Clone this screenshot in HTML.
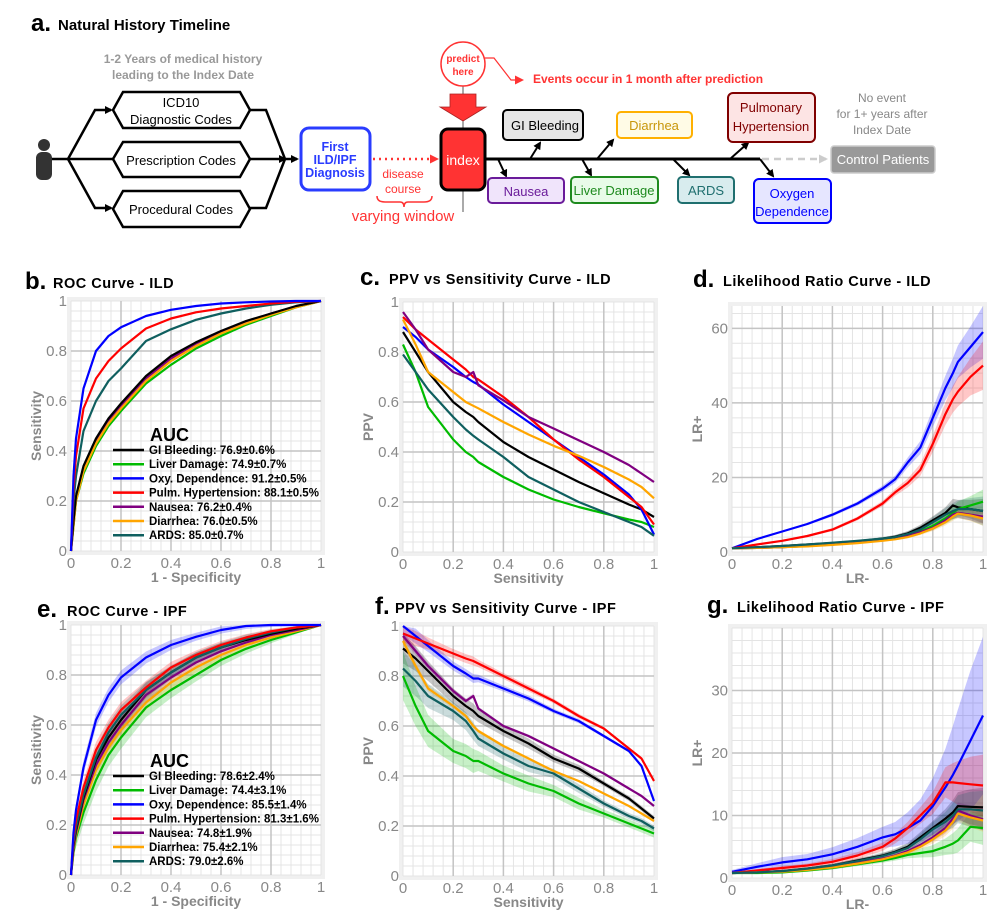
<!DOCTYPE html>
<html><head><meta charset="utf-8">
<style>
html,body{margin:0;padding:0;background:#fff;}
svg{display:block;font-family:"Liberation Sans",Arial,sans-serif;}
</style></head>
<body>
<svg id="fig" width="993" height="913" viewBox="0 0 993 913" xmlns="http://www.w3.org/2000/svg">
<defs>
<marker id="ah" markerWidth="8" markerHeight="8" refX="6" refY="4" orient="auto" markerUnits="userSpaceOnUse"><path d="M0,0 L8,4 L0,8 z" fill="#000"/></marker>
<marker id="ahr" markerWidth="9" markerHeight="9" refX="7" refY="4.5" orient="auto" markerUnits="userSpaceOnUse"><path d="M0,0 L9,4.5 L0,9 z" fill="#ff3333"/></marker>
<marker id="ahg" markerWidth="9" markerHeight="9" refX="7" refY="4.5" orient="auto" markerUnits="userSpaceOnUse"><path d="M0,0 L9,4.5 L0,9 z" fill="#ccc"/></marker>
</defs>
<g>
<text x="31" y="31" font-size="24" font-weight="bold">a.</text>
<text x="58" y="30" font-size="15" font-weight="bold">Natural History Timeline</text>
<text x="183" y="63" font-size="12" font-weight="bold" fill="#999" text-anchor="middle">1-2 Years of medical history</text>
<text x="183" y="79" font-size="12" font-weight="bold" fill="#999" text-anchor="middle">leading to the Index Date</text>
<g><circle cx="44" cy="145" r="6" fill="#333"/><rect x="36" y="152" width="16" height="28" rx="6" fill="#333"/></g>
<g fill="none" stroke="#000" stroke-width="2.5">
<path d="M52,159 L285,159" marker-end="url(#ah)"/>
<path d="M68,159 L95,110 L111,110" marker-end="url(#ah)"/>
<path d="M68,159 L95,208 L111,208" marker-end="url(#ah)"/>
<path d="M250,110 L266,110 L285,159 L297,159" marker-end="url(#ah)"/>
<path d="M250,208 L266,208 L285,159"/>
</g>
<g stroke="#000" stroke-width="2.5" fill="#fff">
<polygon points="113,110 123,92 240,92 250,110 240,128 123,128"/>
<polygon points="113,159 123,142 240,142 250,159 240,177 123,177"/>
<polygon points="113,209 123,191 240,191 250,209 240,227 123,227"/>
</g>
<g font-size="13" text-anchor="middle" fill="#000">
<text x="181" y="107">ICD10</text>
<text x="181" y="124">Diagnostic Codes</text>
<text x="181" y="165">Prescription Codes</text>
<text x="181" y="214">Procedural Codes</text>
</g>
<rect x="301" y="128" width="69" height="62" rx="8" fill="#fff" stroke="#2a3cff" stroke-width="3"/>
<g font-size="12.5" font-weight="bold" fill="#2a3cff" text-anchor="middle">
<text x="335" y="151">First</text>
<text x="335" y="164">ILD/IPF</text>
<text x="335" y="177">Diagnosis</text>
</g>
<path d="M373,159 L437,159" stroke="#ff3333" stroke-width="2.5" stroke-dasharray="2,4" fill="none" marker-end="url(#ahr)"/>
<text x="403" y="178" font-size="12" fill="#ff3333" text-anchor="middle">disease</text>
<text x="403" y="193" font-size="12" fill="#ff3333" text-anchor="middle">course</text>
<path d="M377,196 Q377,202 385,202 L400,202 Q404,202 404,207 Q404,202 408,202 L424,202 Q432,202 432,196" stroke="#ff3333" stroke-width="1.5" fill="none"/>
<text x="403" y="221" font-size="15" fill="#ff3333" text-anchor="middle">varying window</text>
<line x1="463" y1="86" x2="463" y2="212" stroke="#555" stroke-width="1"/>
<circle cx="463" cy="64" r="22" fill="#fff" stroke="#ff3333" stroke-width="1.5"/>
<text x="463" y="62" font-size="10" font-weight="bold" fill="#ff3333" text-anchor="middle">predict</text>
<text x="463" y="75" font-size="10" font-weight="bold" fill="#ff3333" text-anchor="middle">here</text>
<polygon points="450,94 476,94 476,107 486,107 463,121 440,107 450,107" fill="#ff3333" stroke="#aa2222" stroke-width="0.8"/>
<path d="M485,58 L494,58 L511,80 L522,80" stroke="#ff3333" stroke-width="1.2" fill="none" marker-end="url(#ahr)"/>
<text x="533" y="83" font-size="12" font-weight="bold" fill="#ff3333">Events occur in 1 month after prediction</text>
<line x1="485" y1="159" x2="760" y2="159" stroke="#000" stroke-width="3"/>
<path d="M762,159 L826,159" stroke="#ccc" stroke-width="2.5" stroke-dasharray="7,5" fill="none" marker-end="url(#ahg)"/>
<rect x="441" y="129" width="44" height="61" rx="7" fill="#ff3333" stroke="#000" stroke-width="3"/>
<text x="463" y="165" font-size="14" fill="#fff" text-anchor="middle">index</text>
<g stroke="#000" stroke-width="2" fill="none">
<path d="M530,159 L540,143" marker-end="url(#ah)"/>
<path d="M498,159 L506,176" marker-end="url(#ah)"/>
<path d="M597,159 L613,140" marker-end="url(#ah)"/>
<path d="M582,159 L591,175" marker-end="url(#ah)"/>
<path d="M673,159 L689,175" marker-end="url(#ah)"/>
<path d="M730,159 L748,143" marker-end="url(#ah)"/>
<path d="M760,159 L773,176" marker-end="url(#ah)"/>
</g>
<g font-size="13" text-anchor="middle">
<rect x="503" y="110" width="80" height="30" rx="4" fill="#e6e6e6" stroke="#000" stroke-width="2"/>
<text x="545" y="130" fill="#000">GI Bleeding</text>
<rect x="617" y="112" width="75" height="26" rx="4" fill="#fffbe6" stroke="#ffb000" stroke-width="2"/>
<text x="654" y="130" fill="#c8960a">Diarrhea</text>
<rect x="728" y="93" width="87" height="49" rx="5" fill="#fde4e4" stroke="#800000" stroke-width="2"/>
<text x="771" y="112" fill="#800000">Pulmonary</text>
<text x="771" y="131" fill="#800000">Hypertension</text>
<rect x="488" y="178" width="76" height="25" rx="4" fill="#f0e4fb" stroke="#6a1b9a" stroke-width="2"/>
<text x="526" y="196" fill="#6a1b9a">Nausea</text>
<rect x="571" y="177" width="87" height="26" rx="4" fill="#e8fbe8" stroke="#1e8a1e" stroke-width="2"/>
<text x="614" y="195" fill="#1e8a1e">Liver Damage</text>
<rect x="678" y="177" width="56" height="26" rx="4" fill="#d8ecee" stroke="#1f6f6f" stroke-width="2"/>
<text x="706" y="195" fill="#1f6f6f">ARDS</text>
<rect x="754" y="179" width="77" height="44" rx="5" fill="#e6e6ff" stroke="#0000ff" stroke-width="2"/>
<text x="792" y="198" fill="#0000ff">Oxygen</text>
<text x="792" y="216" fill="#0000ff">Dependence</text>
<rect x="831" y="146" width="104" height="27" rx="3" fill="#999" stroke="#ccc" stroke-width="1.5"/>
<text x="883" y="164" fill="#fff">Control Patients</text>
</g>
<g font-size="12" fill="#888" text-anchor="middle">
<text x="882" y="102">No event</text>
<text x="882" y="118">for 1+ years after</text>
<text x="882" y="134">Index Date</text>
</g>
</g>
<g id="charts"></g>
</svg>
<script>
// ---------- data ----------
const seriesNames = ["GI Bleeding","Liver Damage","Oxy. Dependence","Pulm. Hypertension","Nausea","Diarrhea","ARDS"];
const seriesColors = ["#000000","#00bb00","#0000ff","#ff0000","#800080","#ffa500","#0f5f5f"];
const aucILD = ["76.9±0.6%","74.9±0.7%","91.2±0.5%","88.1±0.5%","76.2±0.4%","76.0±0.5%","85.0±0.7%"];
const aucIPF = ["78.6±2.4%","74.4±3.1%","85.5±1.4%","81.3±1.6%","74.8±1.9%","75.4±2.1%","79.0±2.6%"];

const rocX = [0,0.01,0.02,0.05,0.1,0.15,0.2,0.3,0.4,0.5,0.6,0.7,0.8,0.9,1];
const rocILD_gi    = [0,0.12,0.22,0.34,0.45,0.53,0.59,0.70,0.78,0.835,0.88,0.92,0.95,0.98,1];
const rocILD_liver = [0,0.10,0.20,0.31,0.42,0.50,0.56,0.67,0.745,0.81,0.86,0.905,0.94,0.975,1];
const rocILD_oxy   = [0,0.30,0.45,0.65,0.80,0.86,0.895,0.94,0.965,0.98,0.99,0.995,0.998,1,1];
const rocILD_pulm  = [0,0.25,0.38,0.57,0.69,0.76,0.81,0.89,0.93,0.955,0.97,0.98,0.99,0.997,1];
const rocILD_naus  = [0,0.11,0.21,0.33,0.44,0.52,0.58,0.69,0.77,0.83,0.875,0.915,0.95,0.978,1];
const rocILD_diar  = [0,0.10,0.20,0.32,0.43,0.51,0.57,0.68,0.76,0.82,0.87,0.91,0.945,0.975,1];
const rocILD_ards  = [0,0.20,0.30,0.48,0.60,0.68,0.73,0.84,0.887,0.925,0.95,0.97,0.985,0.995,1];

const rocIPF_gi    = [0,0.12,0.18,0.31,0.46,0.55,0.62,0.74,0.81,0.87,0.91,0.94,0.965,0.985,1];
const rocIPF_liver = [0,0.09,0.15,0.25,0.38,0.48,0.55,0.67,0.74,0.80,0.86,0.905,0.94,0.97,1];
const rocIPF_oxy   = [0,0.17,0.26,0.43,0.62,0.72,0.79,0.87,0.92,0.953,0.98,0.996,1,1,1];
const rocIPF_pulm  = [0,0.15,0.22,0.35,0.50,0.59,0.66,0.75,0.83,0.88,0.92,0.95,0.975,0.99,1];
const rocIPF_naus  = [0,0.11,0.17,0.30,0.44,0.53,0.60,0.72,0.79,0.85,0.895,0.93,0.96,0.98,1];
const rocIPF_diar  = [0,0.10,0.16,0.28,0.42,0.51,0.58,0.69,0.77,0.83,0.88,0.92,0.95,0.975,1];
const rocIPF_ards  = [0,0.13,0.19,0.32,0.47,0.57,0.64,0.74,0.81,0.87,0.91,0.945,0.97,0.99,1];
const rocIPF_band  = [0,0.02,0.03,0.035,0.035,0.035,0.035,0.03,0.025,0.02,0.018,0.015,0.01,0.005,0];

const ppvX = [0,0.05,0.1,0.2,0.25,0.28,0.3,0.4,0.5,0.6,0.7,0.8,0.9,0.95,1];
const ppvILD_gi    = [0.88,0.80,0.72,0.60,0.56,0.54,0.52,0.44,0.38,0.33,0.28,0.235,0.19,0.17,0.14];
const ppvILD_liver = [0.83,0.72,0.58,0.45,0.40,0.38,0.36,0.30,0.25,0.21,0.18,0.155,0.13,0.12,0.10];
const ppvILD_oxy   = [0.90,0.86,0.81,0.74,0.70,0.68,0.67,0.59,0.52,0.45,0.38,0.31,0.23,0.17,0.07];
const ppvILD_pulm  = [0.94,0.89,0.85,0.77,0.73,0.70,0.69,0.62,0.54,0.45,0.37,0.30,0.22,0.18,0.11];
const ppvILD_naus  = [0.96,0.89,0.81,0.72,0.70,0.72,0.667,0.607,0.54,0.494,0.447,0.40,0.348,0.314,0.28];
const ppvILD_diar  = [0.93,0.83,0.72,0.64,0.60,0.585,0.575,0.52,0.47,0.425,0.385,0.34,0.29,0.26,0.215];
const ppvILD_ards  = [0.79,0.72,0.65,0.54,0.49,0.465,0.45,0.38,0.30,0.25,0.20,0.16,0.12,0.10,0.065];

const ppvIPF_gi    = [0.91,0.87,0.82,0.72,0.68,0.66,0.64,0.58,0.53,0.47,0.43,0.37,0.31,0.27,0.23];
const ppvIPF_liver = [0.80,0.68,0.58,0.50,0.48,0.46,0.46,0.41,0.37,0.34,0.29,0.25,0.21,0.19,0.17];
const ppvIPF_oxy   = [1.00,0.96,0.92,0.84,0.81,0.79,0.79,0.75,0.71,0.66,0.62,0.56,0.50,0.44,0.30];
const ppvIPF_pulm  = [0.97,0.95,0.93,0.89,0.87,0.86,0.85,0.80,0.75,0.70,0.64,0.59,0.51,0.47,0.38];
const ppvIPF_naus  = [0.96,0.90,0.84,0.74,0.70,0.72,0.67,0.60,0.56,0.51,0.46,0.41,0.35,0.32,0.28];
const ppvIPF_diar  = [0.94,0.84,0.75,0.68,0.64,0.60,0.58,0.52,0.47,0.42,0.38,0.33,0.28,0.25,0.22];
const ppvIPF_ards  = [0.83,0.78,0.72,0.66,0.62,0.58,0.55,0.49,0.44,0.41,0.35,0.29,0.24,0.22,0.19];
const ppvIPF_band  = [0.06,0.05,0.04,0.03,0.03,0.03,0.025,0.02,0.02,0.015,0.015,0.01,0.01,0.01,0.01];

const lrX = [0,0.1,0.2,0.3,0.4,0.5,0.6,0.65,0.7,0.75,0.8,0.85,0.88,0.9,0.95,1];
const lrILD_gi    = [1,1.3,1.6,2,2.4,2.9,3.6,4.1,5,6.5,8.5,10.5,12.5,12,11.5,11];
const lrILD_liver = [1,1.1,1.3,1.6,2,2.5,3.2,3.7,4.5,5.5,7,9,10.5,11.5,12.5,13.5];
const lrILD_oxy   = [1,3.5,5.5,7.5,10,13,17,19.5,24,28,36,44,48,51,55,59];
const lrILD_pulm  = [1,2,3,4.3,6,9,13,16,18.5,22,29,37,41,43,47,50];
const lrILD_naus  = [1,1.1,1.3,1.6,2,2.5,3.2,3.6,4.3,5.3,6.5,8.5,10,10.5,10,9.5];
const lrILD_diar  = [1,1.1,1.3,1.5,1.9,2.4,3,3.4,4,5,6.3,8,9.5,10.3,9.8,9];
const lrILD_ards  = [1,1.3,1.6,2,2.5,3,3.6,4,4.8,6,8,10,11,11.5,11.5,11];
const lrILD_band  = [0,0.1,0.2,0.3,0.4,0.5,0.7,0.9,1.2,1.6,2.2,3,3.6,4,5,6.5];

const lrIPF_gi    = [0.8,0.9,1.1,1.5,2,2.8,3.6,4.2,5,6.5,8,9.5,10.5,11.5,11.4,11.3];
const lrIPF_liver = [0.8,0.8,0.9,1.2,1.6,2.2,2.8,3.2,3.7,4,4.3,5,5.5,6,8.2,8];
const lrIPF_oxy   = [1,1.8,2.5,3,3.8,5,6.5,7,8,9.2,11.5,14.5,16.5,18,22,26];
const lrIPF_pulm  = [0.8,1.2,1.6,2,2.6,3.6,5,6.3,8,10,12,15.3,15.3,15.2,15,14.8];
const lrIPF_naus  = [0.8,0.9,1.1,1.4,1.8,2.4,3.1,3.6,4.3,5.3,6.5,8,9.5,10.8,10,9.4];
const lrIPF_diar  = [0.8,0.9,1.0,1.3,1.7,2.3,3,3.5,4.1,5,6.2,7.6,9,10.3,9.7,9.2];
const lrIPF_ards  = [0.8,0.9,1.1,1.5,2,2.7,3.5,4.1,4.8,6.2,7.8,9,10,11,11,10.8];
const lrIPF_band  = [0.1,0.2,0.3,0.3,0.4,0.5,0.6,0.7,0.9,1.2,1.6,2.2,2.8,3.2,4,4.5];

const ticks01 = ["0","0.2","0.4","0.6","0.8","1"];
const ticksLRild = ["0","20","40","60"];
const ticksLRipf = ["0","10","20","30"];

// ---------- drawing ----------
const NS = "http://www.w3.org/2000/svg";
const root = document.getElementById("charts");
function mk(tag, parent, attrs) {
  const e = document.createElementNS(NS, tag);
  for (const k in attrs) e.setAttribute(k, attrs[k]);
  parent.appendChild(e);
  return e;
}
function chart(opt) {
  const g = mk("g", root, {});
  
  
  const sx = v => opt.x0 + (v - opt.xmin) / (opt.xmax - opt.xmin) * (opt.x1 - opt.x0);
  const sy = v => opt.y0 - (v - opt.ymin) / (opt.ymax - opt.ymin) * (opt.y0 - opt.y1);
  const frame = mk("rect", g, {x: opt.x0 - 4, y: opt.y1 - 4, width: opt.x1 - opt.x0 + 8, height: opt.y0 - opt.y1 + 8, fill: "#f0f0f0"});
  
  
  const bg = mk("rect", g, {x: opt.x0, y: opt.y1, width: opt.x1 - opt.x0, height: opt.y0 - opt.y1, fill: "#fff"});
  
  
  for (let v = opt.xmin; v <= opt.xmax + 1e-9; v += opt.xminor) {
    const l = mk("line", g, {x1: sx(v), x2: sx(v), y1: opt.y1, y2: opt.y0, stroke: "#e4e4e4", "stroke-width": 1});
    
    
  }
  for (let v = opt.ymin; v <= opt.ymax + 1e-9; v += opt.yminor) {
    const l = mk("line", g, {x1: opt.x0, x2: opt.x1, y1: sy(v), y2: sy(v), stroke: "#e4e4e4", "stroke-width": 1});
    
    
  }
  opt.xticks.forEach(t => {
    const v = parseFloat(t);
    if (v > opt.xmin && v < opt.xmax) {
      const l = mk("line", g, {x1: sx(v), x2: sx(v), y1: opt.y1, y2: opt.y0, stroke: "#c4c4c4", "stroke-width": 1.5});
      
      
    }
    const tx = mk("text", g, {x: sx(v), y: opt.y0 + 17, "font-size": 15, fill: "#888", "text-anchor": "middle"});
    tx.textContent = t;
    
    
  });
  opt.yticks.forEach(t => {
    const v = parseFloat(t);
    if (v > opt.ymin && v < opt.ymax) {
      const l = mk("line", g, {x1: opt.x0, x2: opt.x1, y1: sy(v), y2: sy(v), stroke: "#c4c4c4", "stroke-width": 1.5});
      
      
    }
    const tx = mk("text", g, {x: opt.x0 - 4, y: sy(v) + 5, "font-size": 15, fill: "#888", "text-anchor": "end"});
    tx.textContent = t;
    
    
  });
  opt.series.forEach((ys, i) => {
    if (!opt.band) return;
    const up = opt.xs.map((x, k) => sx(x) + "," + sy(Math.min(opt.ymax, ys[k] + opt.band[k] * (opt.bandScale ? opt.bandScale[i] : 1))));
    const dn = opt.xs.map((x, k) => sx(x) + "," + sy(Math.max(opt.ymin, ys[k] - opt.band[k] * (opt.bandScale ? opt.bandScale[i] : 1)))).reverse();
    const p = mk("polygon", g, {points: up.concat(dn).join(" "), fill: seriesColors[i], "fill-opacity": 0.22, stroke: "none"});
    
    
  });
  const order = opt.order || [0,1,2,3,4,5,6];
  order.forEach(i => {
    const ys = opt.series[i];
    const pts = opt.xs.map((x, k) => sx(x).toFixed(1) + "," + sy(ys[k]).toFixed(1)).join(" ");
    const pl = mk("polyline", g, {points: pts, fill: "none", stroke: seriesColors[i], "stroke-width": opt.lw || 2.2, "stroke-linejoin": "round"});
    
    
  });
  const lab = mk("text", g, {x: opt.labelX, y: opt.titleY + 1, "font-size": 24, "font-weight": "bold"});
  lab.textContent = opt.letter;
  
  
  const tt = mk("text", g, {x: opt.titleX, y: opt.titleY, "font-size": 14.5, "font-weight": "bold", "letter-spacing": "0.5"});
  tt.textContent = opt.title;
  
  
  const xt = mk("text", g, {x: (opt.x0 + opt.x1) / 2, y: opt.y0 + 31, "font-size": 14, "font-weight": "bold", fill: "#888", "text-anchor": "middle"});
  xt.textContent = opt.xlabel;
  
  
  const yx = opt.x0 - 30, yy = (opt.y0 + opt.y1) / 2;
  const yt = mk("text", g, {x: yx, y: yy, "font-size": 14, "font-weight": "bold", fill: "#888", "text-anchor": "middle", transform: "rotate(-90 " + yx + " " + yy + ")"});
  yt.textContent = opt.ylabel;
  
  
  if (opt.legend) {
    const lg = mk("g", g, {});
    
    
    const h = mk("text", lg, {x: 150, y: opt.legendY, "font-size": 18, "font-weight": "bold"});
    h.textContent = "AUC";
    
    
    opt.legend.forEach((s, i) => {
      const y = opt.legendY + 13 + i * 14.2;
      const l = mk("line", lg, {x1: 113, x2: 144, y1: y - 4, y2: y - 4, stroke: seriesColors[i], "stroke-width": 2.5});
      
      
      const t = mk("text", lg, {x: 149, y: y, "font-size": 11.5, "font-weight": "bold"});
      t.textContent = seriesNames[i] + ": " + s;
      
      
    });
  }
}

chart({name: "roc-ild-chart", letter: "b.", title: "ROC Curve - ILD", labelX: 25, titleX: 53, titleY: 288,
  x0: 71, x1: 321, y0: 551, y1: 301, xmin: 0, xmax: 1, ymin: 0, ymax: 1, xminor: 0.04, yminor: 0.04,
  xticks: ticks01, yticks: ticks01, xlabel: "1 - Specificity", ylabel: "Sensitivity",
  xs: rocX, series: [rocILD_gi, rocILD_liver, rocILD_oxy, rocILD_pulm, rocILD_naus, rocILD_diar, rocILD_ards],
  order: [1,4,5,0,6,3,2], legend: aucILD, legendY: 441});

chart({name: "ppv-ild-chart", letter: "c.", title: "PPV vs Sensitivity Curve - ILD", labelX: 360, titleX: 389, titleY: 284,
  x0: 403, x1: 654, y0: 552, y1: 302, xmin: 0, xmax: 1, ymin: 0, ymax: 1, xminor: 0.04, yminor: 0.04,
  xticks: ticks01, yticks: ticks01, xlabel: "Sensitivity", ylabel: "PPV",
  xs: ppvX, series: [ppvILD_gi, ppvILD_liver, ppvILD_oxy, ppvILD_pulm, ppvILD_naus, ppvILD_diar, ppvILD_ards]});

chart({name: "lr-ild-chart", letter: "d.", title: "Likelihood Ratio Curve - ILD", labelX: 693, titleX: 723, titleY: 286,
  x0: 732, x1: 983, y0: 552, y1: 306, xmin: 0, xmax: 1, ymin: 0, ymax: 66, xminor: 0.04, yminor: 4,
  xticks: ticks01, yticks: ticksLRild, xlabel: "LR-", ylabel: "LR+",
  xs: lrX, series: [lrILD_gi, lrILD_liver, lrILD_oxy, lrILD_pulm, lrILD_naus, lrILD_diar, lrILD_ards],
  band: lrILD_band, bandScale: [0.5,0.5,1.1,1,0.3,0.3,0.6]});

chart({name: "roc-ipf-chart", letter: "e.", title: "ROC Curve - IPF", labelX: 37, titleX: 67, titleY: 616,
  x0: 71, x1: 321, y0: 875, y1: 625, xmin: 0, xmax: 1, ymin: 0, ymax: 1, xminor: 0.04, yminor: 0.04,
  xticks: ticks01, yticks: ticks01, xlabel: "1 - Specificity", ylabel: "Sensitivity",
  xs: rocX, series: [rocIPF_gi, rocIPF_liver, rocIPF_oxy, rocIPF_pulm, rocIPF_naus, rocIPF_diar, rocIPF_ards],
  band: rocIPF_band, bandScale: [1,1.3,0.8,0.9,0.9,1,1.1], order: [1,5,4,0,6,3,2], legend: aucIPF, legendY: 767});

chart({name: "ppv-ipf-chart", letter: "f.", title: "PPV vs Sensitivity Curve - IPF", labelX: 375, titleX: 395, titleY: 613,
  x0: 403, x1: 654, y0: 876, y1: 626, xmin: 0, xmax: 1, ymin: 0, ymax: 1, xminor: 0.04, yminor: 0.04,
  xticks: ticks01, yticks: ticks01, xlabel: "Sensitivity", ylabel: "PPV",
  xs: ppvX, series: [ppvIPF_gi, ppvIPF_liver, ppvIPF_oxy, ppvIPF_pulm, ppvIPF_naus, ppvIPF_diar, ppvIPF_ards],
  band: ppvIPF_band, bandScale: [1,1.6,0.6,0.6,0.3,0.3,1.2]});

chart({name: "lr-ipf-chart", letter: "g.", title: "Likelihood Ratio Curve - IPF", labelX: 707, titleX: 737, titleY: 612,
  x0: 732, x1: 983, y0: 878, y1: 628, xmin: 0, xmax: 1, ymin: 0, ymax: 40, xminor: 0.04, yminor: 2,
  xticks: ticks01, yticks: ticksLRipf, xlabel: "LR-", ylabel: "LR+",
  xs: lrX, series: [lrIPF_gi, lrIPF_liver, lrIPF_oxy, lrIPF_pulm, lrIPF_naus, lrIPF_diar, lrIPF_ards],
  band: lrIPF_band, bandScale: [0.7,0.6,2.8,1.1,0.4,0.4,0.7]});
</script>
</body></html>
